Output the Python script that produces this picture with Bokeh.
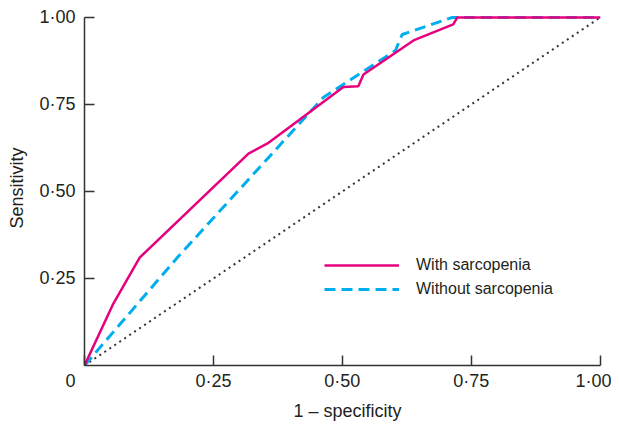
from bokeh.plotting import figure
from bokeh.models import Range1d, FixedTicker, Legend, LegendItem
from bokeh.embed import file_html
from bokeh.resources import INLINE

# ROC data
fpr_with = [0, 0.056, 0.107, 0.318, 0.355, 0.502, 0.531, 0.541, 0.638, 0.715, 0.723, 1.0]
tpr_with = [0, 0.178, 0.310, 0.609, 0.638, 0.800, 0.802, 0.836, 0.934, 0.980, 1.0, 1.0]

fpr_without = [0, 0.18, 0.463, 0.603, 0.616, 0.713, 1.0]
tpr_without = [0, 0.31, 0.77, 0.905, 0.951, 1.0, 1.0]

ref_x = [0, 1]
ref_y = [0, 1]

tick_vals = [0.25, 0.5, 0.75, 1.0]
tick_labels = ["0·25", "0·50", "0·75", "1·00"]
origin_label = "0"
series_names = ["With sarcopenia", "Without sarcopenia"]

FONT = "Liberation Sans"
TXT = "#231f20"

p = figure(width=611, height=424, output_backend="svg", toolbar_location=None,
           x_range=Range1d(0, 1.02), y_range=Range1d(0, 1.02),
           min_border_left=84, min_border_right=1, min_border_top=10, min_border_bottom=59)
p.outline_line_color = None
p.xgrid.visible = False
p.ygrid.visible = False

for ax in (p.xaxis[0], p.yaxis[0]):
    ax.bounds = (0, 1)
    ax.ticker = FixedTicker(ticks=tick_vals)
    ax.major_label_overrides = dict(zip(tick_vals, tick_labels))
    ax.minor_tick_line_color = None
    ax.major_tick_in = 10
    ax.major_tick_out = 0
    ax.axis_line_color = "#333333"
    ax.axis_line_width = 1.5
    ax.major_tick_line_color = "#333333"
    ax.major_tick_line_width = 1.5
    ax.major_label_text_font = FONT
    ax.major_label_text_font_size = "18px"
    ax.major_label_text_color = TXT
    ax.axis_label_text_font = FONT
    ax.axis_label_text_font_size = "18px"
    ax.axis_label_text_font_style = "normal"
    ax.axis_label_text_color = TXT

# origin "0" shown once, left-below the corner (padded so it sits left of the axis)
p.xaxis.ticker = FixedTicker(ticks=[0] + tick_vals)
p.xaxis.major_label_overrides = {0: origin_label + "\u2003\u2007",
                                 **dict(zip(tick_vals, tick_labels))}

p.xaxis.axis_label = "1 – specificity"
p.yaxis.axis_label = "Sensitivity"
p.xaxis.major_label_standoff = 5
p.yaxis.major_label_standoff = 9
p.xaxis.axis_label_standoff = 7
p.yaxis.axis_label_standoff = 9

p.line(ref_x, ref_y, line_color="#333333", line_width=2, line_dash="2 4")
r_without = p.line(fpr_without, tpr_without, line_color="#00AEEF", line_width=3, line_dash="11 6")
r_with = p.line(fpr_with, tpr_with, line_color="#E6007E", line_width=2.5)

legend = Legend(items=[LegendItem(label=series_names[0], renderers=[r_with]),
                       LegendItem(label=series_names[1], renderers=[r_without])],
                location=(240, 66), orientation="vertical",
                glyph_width=75, glyph_height=20, label_height=20, label_standoff=17,
                spacing=4, padding=0, margin=0,
                border_line_color=None, background_fill_alpha=0,
                label_text_font=FONT, label_text_font_size="16px", label_text_color=TXT)
p.add_layout(legend, "center")

open("out.html", "w").write(file_html(p, INLINE))
